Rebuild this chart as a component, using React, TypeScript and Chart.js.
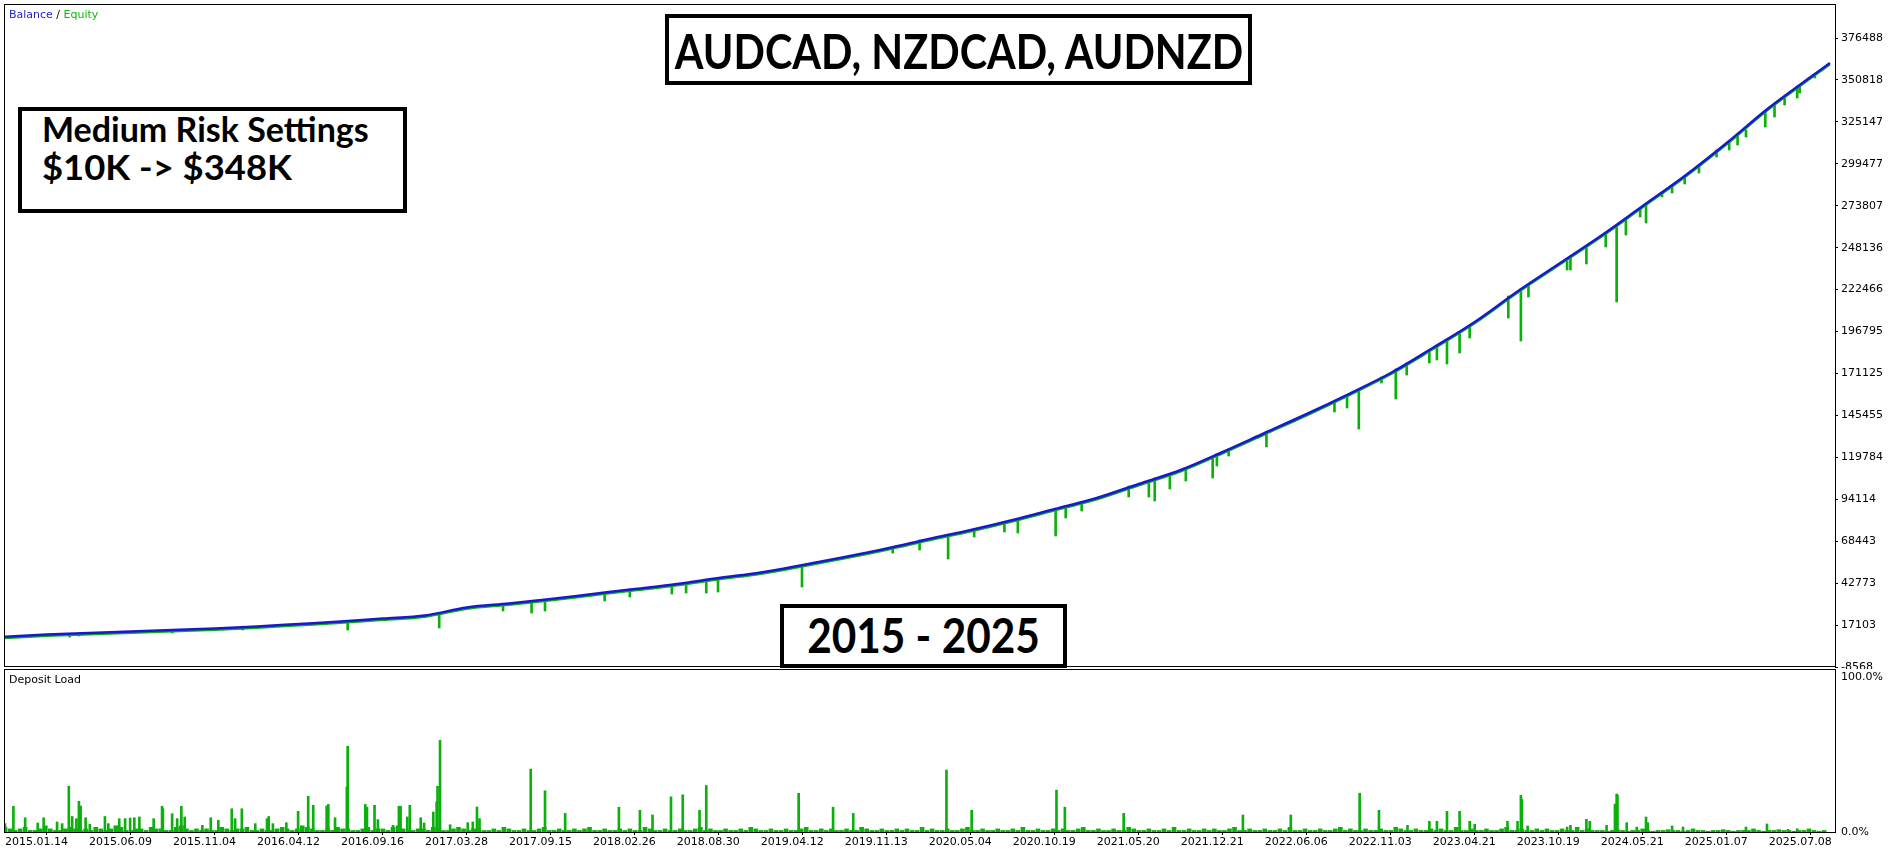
import React, { useEffect, useRef } from "react";
import { Chart, registerables } from "chart.js";
Chart.register(...registerables);

// ---------- data ----------
const dateLabels = [
  "2015.01.14", "2015.06.09", "2015.11.04", "2016.04.12", "2016.09.16", "2017.03.28",
  "2017.09.15", "2018.02.26", "2018.08.30", "2019.04.12", "2019.11.13", "2020.05.04",
  "2020.10.19", "2021.05.20", "2021.12.21", "2022.06.06", "2022.11.03", "2023.04.21",
  "2023.10.19", "2024.05.21", "2025.01.07", "2025.07.08",
];
const dateTickTrades = [0, 100, 200, 300, 400, 500, 600, 700, 800, 900, 1000, 1100, 1200, 1300, 1400, 1500, 1600, 1700, 1800, 1900, 2000, 2100];
const lastTrade = 2179;

const yTicks = [-8568, 17103, 42773, 68443, 94114, 119784, 145455, 171125, 196795, 222466, 248136, 273807, 299477, 325147, 350818, 376488];
const yMin = -8568;
const yMax = 396708;

const balanceTrades = [0, 50, 100, 150, 200, 250, 300, 350, 400, 450, 500, 550, 600, 650, 700, 750, 800, 850, 900, 950, 1000, 1050, 1100, 1150, 1200, 1250, 1300, 1350, 1400, 1450, 1500, 1550, 1600, 1650, 1700, 1750, 1800, 1850, 1900, 1950, 2000, 2050, 2100, 2150, 2173];
const balance = [10000, 11330, 12250, 13170, 14080, 15000, 16230, 17760, 19290, 21120, 22960, 27860, 30310, 33060, 36120, 39180, 42250, 45920, 49290, 53880, 58770, 63980, 69790, 75300, 81430, 88160, 94890, 103470, 112040, 123060, 134690, 146320, 158560, 171420, 186720, 202640, 221010, 238150, 255290, 273660, 292020, 312230, 333650, 352630, 361200];

// equity drawdowns: trade, equity low, balance at that moment
const dipTrade = [77, 88, 199, 283, 408, 517, 593, 627, 643, 714, 744, 794, 811, 835, 849, 949, 1057, 1089, 1123, 1154, 1190, 1206, 1251, 1263, 1282, 1338, 1362, 1369, 1387, 1406, 1438, 1443, 1457, 1502, 1583, 1598, 1612, 1639, 1656, 1669, 1696, 1705, 1717, 1732, 1744, 1790, 1805, 1814, 1864, 1883, 1906, 1919, 1930, 1954, 1985, 2000, 2038, 2063, 2073, 2096, 2119, 2134, 2155, 1860, 1947, 1973, 2017, 2053, 2107, 2137];
const dipLow = [9798, 10410, 12247, 14083, 14083, 15308, 25715, 24491, 25715, 31837, 34286, 36123, 36735, 36735, 37347, 40408, 61223, 63059, 57550, 71018, 74079, 73467, 71630, 82650, 86935, 95506, 95506, 93057, 100404, 105301, 107138, 114484, 120606, 126116, 147543, 149992, 137136, 165297, 155502, 170194, 177541, 179377, 176929, 183663, 192846, 205090, 191009, 217946, 234475, 238149, 248556, 214885, 255902, 263249, 281615, 287125, 303654, 311000, 315898, 322020, 335488, 339774, 352018, 234475, 266922, 279166, 293859, 307939, 328142, 342835];
const dipHigh = [11635, 11941, 14083, 15920, 19593, 23879, 30307, 31837, 32450, 36735, 39184, 41632, 42857, 44693, 45918, 53876, 64284, 69181, 72242, 75916, 80201, 82038, 88160, 89997, 92445, 102241, 105914, 107138, 109587, 112648, 119166, 119994, 124892, 135299, 153665, 157338, 160399, 168970, 173867, 177541, 185499, 187948, 191009, 195907, 200192, 218558, 222844, 225292, 241822, 248556, 257127, 262024, 266310, 274881, 286512, 292022, 307939, 317122, 320183, 331203, 340998, 347120, 354000, 239985, 272432, 282000, 298756, 313449, 336000, 347000];

// deposit load (%): small loads every 6 trades, plus larger spikes
const loadStep = 6;
const loadBase = [
  3, 2, 1, 2, 3, 1, 1, 2, 4, 2, 1, 1, 2, 3, 2, 1, 2, 1, 3, 2,
  1, 2, 4, 3, 1, 1, 2, 2, 1, 3, 2, 2, 1, 1, 3, 4, 2, 1, 2, 1,
  2, 1, 1, 3, 2, 1, 2, 2, 3, 1, 1, 2, 1, 1, 2, 3, 2, 1, 2, 4,
  3, 2, 1, 1, 2, 1, 3, 2, 2, 1, 1, 2, 3, 1, 2, 2, 1, 3, 4, 2,
  1, 1, 2, 2, 1, 3, 2, 1, 1, 2, 3, 2, 1, 2,
  2, 1, 1, 2, 1, 3, 2, 1, 1, 2, 1, 1, 2, 3, 1, 1, 2, 1, 1, 2,
  1, 2, 3, 1, 1, 2, 1, 1, 2, 1, 2, 1, 1, 3, 2, 1, 1, 2, 1, 1,
  2, 1, 1, 2, 3, 1, 2, 1, 1, 2, 1, 1, 2, 1, 3, 2, 1, 1, 2, 1,
  1, 2, 1, 1, 2, 3, 1, 1, 2, 1, 2, 1, 1, 2, 1, 1, 3, 2, 1, 1,
  2, 1, 1, 2, 1, 2, 1, 1, 3, 1, 2, 1, 1, 2, 1, 1, 2, 3, 1, 1,
  2, 1, 1, 2, 1, 1, 2, 1, 3, 1, 1, 2, 1, 1, 2,
  1, 2, 1, 1, 2, 3, 1, 1, 2, 1, 1, 2, 1, 1, 3, 2, 1, 1, 2, 1,
  1, 2, 1, 3, 1, 1, 2, 1, 1, 2, 1, 2, 1, 1, 2, 3, 1, 1, 2, 1,
  1, 2, 1, 1, 2, 1, 3, 1, 1, 2, 1, 1, 2, 1, 1, 2, 3, 1, 2, 1,
  1, 2, 1, 1, 2, 1, 1, 3, 2, 1, 1, 2, 1, 1, 2, 1, 2, 1, 1, 3,
  1, 1, 2, 1, 1, 2, 1, 1, 2, 3, 1, 1, 2, 1, 1, 2, 1, 2, 1, 1,
  2, 1, 1, 3, 1, 2, 1,
  1, 1, 0.5, 1, 1.5, 1, 0.5, 1, 1, 2, 1, 0.5, 1, 1, 1.5, 1, 1, 0.5, 1, 2,
  1, 1, 0.5, 1, 1, 1.5, 1, 0.5, 1, 1, 1, 2, 1, 0.5, 1, 1, 1.5, 1, 1, 0.5,
  1, 1, 2, 1, 0.5, 1,
];
const spikeTrade = [0, 10, 24, 39, 46, 62, 68, 76, 80, 85, 88, 90, 96, 101, 119, 123, 136, 143, 149, 154, 160, 177, 187, 188, 199, 205, 210, 214, 235, 245, 254, 270, 274, 282, 298, 312, 314, 319, 335, 349, 361, 367, 383, 385, 393, 407, 408, 429, 431, 440, 444, 462, 469, 471, 479, 482, 495, 499, 510, 514, 515, 518, 530, 551, 557, 562, 565, 626, 643, 667, 731, 756, 771, 793, 807, 827, 835, 945, 986, 1010, 1121, 1151, 1252, 1262, 1332, 1474, 1531, 1613, 1636, 1670, 1696, 1705, 1717, 1732, 1744, 1750, 1789, 1801, 1805, 1806, 1813, 1860, 1864, 1883, 1887, 1907, 1917, 1919, 1920, 1931, 1943, 1954, 1956, 1985, 1998, 2073, 2098, 2123, 2134];
const spikeValue = [5.4, 16.6, 9.2, 5.8, 9.2, 6.5, 5.4, 29.5, 10, 8.6, 19.8, 16.8, 9.2, 5, 10, 5.4, 8.6, 8.6, 9, 9.2, 9.7, 8.6, 16.6, 15, 11.8, 8.6, 16.6, 9.7, 4.3, 9.2, 7.5, 15, 8.6, 15, 5.4, 8.6, 10, 5.4, 6, 13.3, 23, 17.2, 16.8, 17.8, 9.2, 29, 55.3, 17.8, 16, 17.2, 8, 4.3, 16.6, 16.6, 9.7, 17.2, 9.2, 5.8, 12.9, 19.4, 29.5, 59.1, 4.7, 6, 6.5, 16.1, 8.6, 40.6, 26.6, 12, 16, 14, 11, 22.7, 24, 14, 30, 25, 16, 12, 40, 14, 27, 16, 12, 11, 11, 25, 14, 4.3, 6.9, 6.9, 13.3, 13.3, 6.9, 5, 6.9, 6.9, 23.7, 21, 3.9, 3.2, 4.3, 8.2, 6.9, 4.3, 18, 24.5, 23.7, 6, 3.2, 9.7, 6, 3.9, 3.2, 3.2, 5.2, 1.7, 2.1];

// ---------- styles ----------
const BLUE = "#1818d0";
const GREEN = "#0cb00c";

const framePlugin = (extraH: number) => ({
  id: "frame",
  afterDraw(chart: any) {
    const { ctx, chartArea: a } = chart;
    ctx.save();
    ctx.strokeStyle = "#000";
    ctx.lineWidth = 1;
    ctx.strokeRect(a.left - 0.5, a.top - 0.5, a.right - a.left + 1, a.bottom - a.top + extraH);
    ctx.restore();
  },
});

const shadowPlugin = {
  id: "eqshadow",
  beforeDatasetDraw(chart: any, args: any) {
    if (args.index === 1) {
      chart.ctx.save();
      chart.ctx.translate(0, 1.5);
    }
  },
  afterDatasetDraw(chart: any, args: any) {
    if (args.index === 1) chart.ctx.restore();
  },
};

const noVPad = (s: any) => { s.paddingTop = 0; s.paddingBottom = 0; };
const noHPad = (s: any) => { s.paddingLeft = 0; s.paddingRight = 0; };

export default function App() {
  const topRef = useRef<HTMLCanvasElement>(null);
  const botRef = useRef<HTMLCanvasElement>(null);

  useEffect(() => {
    document.body.style.margin = "0";
    Chart.defaults.font.family = "'DejaVu Sans', sans-serif";
    Chart.defaults.font.size = 11;
    Chart.defaults.color = "#000";

    const balancePts = balanceTrades.map((t, i) => ({ x: t, y: balance[i] }));

    const top = new Chart(topRef.current as HTMLCanvasElement, {
      type: "line",
      data: {
        datasets: [
          { type: "line", label: "Balance", data: balancePts, borderColor: BLUE, borderWidth: 2.5, borderJoinStyle: "round", pointRadius: 0, cubicInterpolationMode: "monotone", order: 0 } as any,
          { type: "line", label: "EquityBase", data: balancePts, borderColor: GREEN, borderWidth: 2, borderJoinStyle: "round", pointRadius: 0, cubicInterpolationMode: "monotone", order: 1 } as any,
          {
            type: "bar", label: "Equity",
            data: dipTrade.map((t, i) => ({ x: t, y: [dipLow[i], dipHigh[i]] })),
            backgroundColor: GREEN, barThickness: 2, grouped: false, order: 2,
          } as any,
        ],
      },
      options: {
        animation: false,
        responsive: false,
        maintainAspectRatio: false,
        layout: { padding: { left: 5, top: 5, right: 0, bottom: 2 } },
        plugins: { legend: { display: false }, tooltip: { enabled: false } },
        scales: {
          x: { type: "linear", min: 0, max: lastTrade, display: false, offset: false },
          y: {
            position: "right", min: yMin, max: yMax,
            afterFit: (s: any) => { s.width = 57; noVPad(s); },
            afterBuildTicks: (s: any) => { s.ticks = yTicks.map((v) => ({ value: v })); },
            grid: { drawOnChartArea: false, tickLength: 3, color: "#000" },
            border: { display: false },
            ticks: { autoSkip: false, padding: 3, callback: (v: any) => String(v) },
          },
        },
      } as any,
      plugins: [framePlugin(0), shadowPlugin],
    });

    const bot = new Chart(botRef.current as HTMLCanvasElement, {
      type: "bar",
      data: {
        datasets: [
          {
            label: "LoadBase",
            data: loadBase.map((v, i) => ({ x: i * loadStep, y: v })),
            backgroundColor: GREEN, barThickness: 4, grouped: false,
          } as any,
          {
            label: "LoadSpike",
            data: spikeTrade.map((t, i) => ({ x: t, y: spikeValue[i] })),
            backgroundColor: GREEN, barThickness: 2, grouped: false,
          } as any,
        ],
      },
      options: {
        animation: false,
        responsive: false,
        maintainAspectRatio: false,
        layout: { padding: { left: 5, top: 1, right: 0, bottom: 0 } },
        plugins: { legend: { display: false }, tooltip: { enabled: false } },
        scales: {
          x: {
            type: "linear", min: 0, max: lastTrade, offset: false,
            afterFit: (s: any) => { s.height = 21; noHPad(s); },
            afterBuildTicks: (s: any) => { s.ticks = dateTickTrades.map((v) => ({ value: v })); },
            grid: { drawOnChartArea: false, tickLength: 3, color: "#000" },
            border: { display: false },
            ticks: { autoSkip: false, maxRotation: 0, align: "start", padding: 1, callback: (_v: any, i: number) => dateLabels[i] },
          },
          y: {
            position: "right", min: 0, max: 104.5,
            afterFit: (s: any) => { s.width = 57; noVPad(s); },
            afterBuildTicks: (s: any) => { s.ticks = [{ value: 0 }, { value: 100 }]; },
            grid: { display: false, drawTicks: false },
            border: { display: false },
            ticks: { autoSkip: false, padding: 6, callback: (v: any) => Number(v).toFixed(1) + "%" },
          },
        },
      } as any,
      plugins: [framePlugin(1)],
    });

    return () => {
      top.destroy();
      bot.destroy();
    };
  }, []);

  const boxStyle = (left: number, top: number, width: number, height: number): React.CSSProperties => ({
    position: "absolute", left, top, width, height, boxSizing: "border-box",
    border: "4px solid #000", background: "#fff",
  });
  const bigText: React.CSSProperties = {
    position: "absolute", fontFamily: "Lato, sans-serif", fontWeight: 700, color: "#000",
    lineHeight: 1, whiteSpace: "nowrap",
  };
  const small: React.CSSProperties = {
    position: "absolute", fontFamily: "'DejaVu Sans', sans-serif", fontSize: 11, lineHeight: "13px", whiteSpace: "nowrap",
  };

  return (
    <div style={{ position: "relative", width: 1892, height: 853, background: "#fff", overflow: "hidden" }}>
      <canvas ref={topRef} width={1892} height={669} style={{ position: "absolute", left: 0, top: 0, display: "block" }} />
      <canvas ref={botRef} width={1892} height={184} style={{ position: "absolute", left: 0, top: 669, display: "block" }} />

      <div style={{ ...small, left: 9, top: 8 }}>
        <span style={{ color: "#1e1ec8" }}>Balance</span>
        <span style={{ color: "#000" }}> / </span>
        <span style={{ color: "#10b810" }}>Equity</span>
      </div>
      <div style={{ ...small, left: 9, top: 673, color: "#000" }}>Deposit Load</div>

      <div style={boxStyle(665, 14, 587, 71)} />
      <div style={{ ...bigText, left: 359, width: 1200, textAlign: "center", top: 28, fontSize: 47, transform: "scaleX(0.88)", transformOrigin: "50% 50%" }}>AUDCAD, NZDCAD, AUDNZD</div>

      <div style={boxStyle(18, 107, 389, 106)} />
      <div style={{ ...bigText, left: 42, top: 112, fontSize: 34 }}>Medium Risk Settings</div>
      <div style={{ ...bigText, left: 42, top: 150, fontSize: 34, transform: "scaleX(1.07)", transformOrigin: "0 50%" }}>$10K -&gt; $348K</div>

      <div style={boxStyle(780, 604, 287, 64)} />
      <div style={{ ...bigText, left: 780, width: 287, textAlign: "center", top: 612, fontSize: 47, transform: "scaleX(0.9)", transformOrigin: "50% 50%" }}>2015 - 2025</div>
    </div>
  );
}
